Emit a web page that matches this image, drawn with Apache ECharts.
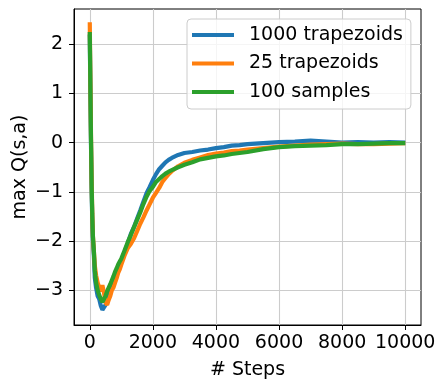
<!DOCTYPE html>
<html>
<head>
<meta charset="utf-8">
<script src="https://cdn.jsdelivr.net/npm/echarts@6/dist/echarts.min.js"></script>
<style>
html,body{margin:0;padding:0;background:#fff;}
#chart{width:436px;height:379px;}
</style>
</head>
<body>
<div id="chart"></div>
<script>
const steps = [0, 20, 40, 60, 80, 100, 130, 160, 200, 250, 300, 350, 400, 450, 500, 550, 600, 650, 700, 750, 800, 850, 900, 950, 1000, 1100, 1200, 1300, 1400, 1500, 1600, 1700, 1800, 1900, 2000, 2100, 2200, 2300, 2400, 2500, 2600, 2800, 3000, 3250, 3500, 3750, 4000, 4250, 4500, 4750, 5000, 5500, 6000, 6500, 7000, 7500, 8000, 8500, 9000, 9500, 10000];

const trap1000 = [2.2, 1.0, -0.1, -1.0, -1.6, -2.0, -2.3, -2.75, -2.95, -3.12, -3.18, -3.32, -3.4, -3.36, -3.3, -3.22, -3.1, -3.05, -2.93, -2.88, -2.76, -2.7, -2.58, -2.52, -2.42, -2.22, -2.06, -1.86, -1.72, -1.55, -1.38, -1.2, -1.03, -0.9, -0.76, -0.64, -0.54, -0.47, -0.4, -0.35, -0.31, -0.25, -0.21, -0.19, -0.16, -0.14, -0.11, -0.09, -0.06, -0.05, -0.03, -0.01, 0.01, 0.02, 0.04, 0.02, 0.0, 0.01, 0.0, 0.01, 0.0];

const trap25 = [2.45, 1.2, 0.1, -0.8, -1.45, -1.9, -2.2, -2.5, -2.7, -2.85, -2.95, -3.02, -2.9, -3.05, -3.25, -3.3, -3.2, -3.12, -3.0, -2.95, -2.85, -2.76, -2.65, -2.58, -2.48, -2.3, -2.15, -2.06, -1.95, -1.8, -1.65, -1.52, -1.38, -1.25, -1.12, -1.02, -0.92, -0.8, -0.72, -0.64, -0.58, -0.48, -0.41, -0.35, -0.3, -0.25, -0.22, -0.2, -0.17, -0.16, -0.14, -0.11, -0.08, -0.06, -0.04, -0.03, -0.02, -0.03, -0.03, -0.02, -0.01];

const samples100 = [2.25, 1.1, 0.0, -0.9, -1.5, -1.9, -2.2, -2.6, -2.85, -3.0, -3.1, -3.18, -3.24, -3.22, -3.12, -3.02, -2.95, -2.88, -2.8, -2.72, -2.63, -2.56, -2.48, -2.42, -2.36, -2.2, -2.03, -1.88, -1.72, -1.57, -1.42, -1.25, -1.1, -0.98, -0.9, -0.8, -0.74, -0.68, -0.63, -0.59, -0.56, -0.5, -0.45, -0.4, -0.34, -0.31, -0.28, -0.26, -0.23, -0.21, -0.19, -0.13, -0.09, -0.07, -0.06, -0.05, -0.03, -0.03, -0.02, -0.01, -0.01];

const seriesNames = ['1000 trapezoids', '25 trapezoids', '100 samples'];
const seriesColors = ['#1f77b4', '#ff7f0e', '#2ca02c'];
const xTicks = [0, 2000, 4000, 6000, 8000, 10000];
const yTicks = [-3, -2, -1, 0, 1, 2];

const FONT = 'DejaVu Sans';
const FS = 19;
const fmt = v => String(v).replace('-', '\u2212');
const pair = (xs, ys) => xs.map((x, i) => [x, ys[i]]);
const allData = [trap1000, trap25, samples100];

const chart = echarts.init(document.getElementById('chart'), null, {renderer: 'canvas'});
chart.setOption({
  animation: false,
  backgroundColor: '#fff',
  textStyle: {fontFamily: FONT},
  grid: {left: 74, right: 15, top: 9, bottom: 54, outerBoundsMode: 'none', containLabel: false, show: true, borderColor: '#000', borderWidth: 1, backgroundColor: 'transparent'},
  legend: {
    orient: 'vertical', left: 187, top: 19,
    padding: [6, 8, 7, 5],
    itemWidth: 42, itemHeight: 4, itemGap: 8.5,
    backgroundColor: 'rgba(255,255,255,0.8)', borderColor: '#cccccc', borderWidth: 1, borderRadius: 4,
    textStyle: {fontFamily: FONT, fontSize: FS, color: '#000', lineHeight: 20, padding: [0, 0, 0, 10]},
    data: seriesNames.map(n => ({name: n, icon: 'rect'}))
  },
  xAxis: {
    type: 'value', min: -500, max: 10500,
    name: '# Steps', nameLocation: 'middle', nameGap: 36, nameMoveOverlap: false,
    nameTextStyle: {fontFamily: FONT, fontSize: FS, color: '#000'},
    axisLine: {show: true, onZero: false, lineStyle: {color: '#000', width: 1}},
    axisTick: {show: true, inside: false, length: 5, customValues: xTicks, lineStyle: {color: '#000'}},
    axisLabel: {show: true, margin: 9, customValues: xTicks, fontFamily: FONT, fontSize: FS, color: '#000', formatter: fmt},
    splitLine: {show: true, lineStyle: {color: '#cccccc', width: 1.1}}
  },
  yAxis: {
    type: 'value', min: -3.71, max: 2.72,
    name: 'max Q(s,a)', nameLocation: 'middle', nameGap: 44, nameRotate: 90, nameMoveOverlap: false,
    nameTextStyle: {fontFamily: FONT, fontSize: FS, color: '#000'},
    axisLine: {show: true, onZero: false, lineStyle: {color: '#000', width: 1}},
    axisTick: {show: true, inside: false, length: 5, customValues: yTicks, lineStyle: {color: '#000'}},
    axisLabel: {show: true, margin: 11, customValues: yTicks, fontFamily: FONT, fontSize: FS, color: '#000', formatter: fmt},
    splitLine: {show: true, lineStyle: {color: '#cccccc', width: 1.1}}
  },
  series: seriesNames.map((n, i) => ({
    name: n, type: 'line', data: pair(steps, allData[i]),
    showSymbol: false, symbol: 'none', smooth: false,
    lineStyle: {color: seriesColors[i], width: 4.2},
    itemStyle: {color: seriesColors[i]},
    z: 2 + i
  }))
});
</script>
</body>
</html>
